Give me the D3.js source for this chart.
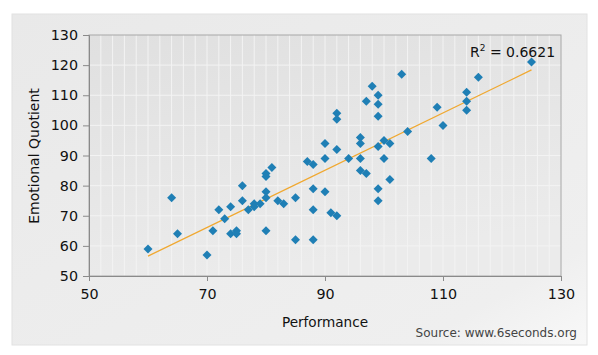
<!DOCTYPE html>
<html>
<head>
<meta charset="utf-8">
<script src="https://cdn.jsdelivr.net/npm/d3@7"></script>
<style>
html,body{margin:0;padding:0;background:#fff;}
svg{display:block;font-family:"DejaVu Sans",Verdana,sans-serif;}
</style>
</head>
<body>
<svg id="chart" width="598" height="355"></svg>
<script>
// ---- data ----
const performance = [60,64,65,70,71,72,73,74,74,75,75,76,76,77,78,78,79,80,80,80,80,80,81,82,83,85,85,87,88,88,88,88,90,90,90,91,92,92,92,92,94,96,96,96,96,97,97,98,99,99,99,99,99,99,100,100,101,101,103,104,108,109,110,114,114,114,116,125];
const emotionalQuotient = [59,76,64,57,65,72,69,73,64,65,64,80,75,72,74,73,74,84,83,78,76,65,86,75,74,76,62,88,87,79,72,62,94,89,78,71,104,102,92,70,89,96,94,89,85,108,84,113,110,107,103,93,79,75,95,89,94,82,117,98,89,106,100,111,108,105,116,121];
const trendX = [60,125];
const trendY = [56.6,118.4];
const xTicks = [50,70,90,110,130];
const yTicks = [50,60,70,80,90,100,110,120,130];
const rSquaredLabel = "0.6621";
const xTitle = "Performance";
const yTitle = "Emotional Quotient";
const sourceText = "Source: www.6seconds.org";

(function(){
const svg = d3.select("#chart");
const defs = svg.append("defs");
const pg = defs.append("linearGradient").attr("id","panelGrad").attr("x1","0").attr("y1","0").attr("x2","1").attr("y2","1");
pg.append("stop").attr("offset","0").attr("stop-color","#e9e9e9");
pg.append("stop").attr("offset","0.85").attr("stop-color","#efefef");
pg.append("stop").attr("offset","1").attr("stop-color","#f8f8f8");
const ag = defs.append("linearGradient").attr("id","plotGrad").attr("x1","0").attr("y1","0").attr("x2","0.3").attr("y2","1");
ag.append("stop").attr("offset","0").attr("stop-color","#e0e0e0");
ag.append("stop").attr("offset","1").attr("stop-color","#ebebeb");

// outer panel
svg.append("rect").attr("x",12).attr("y",14).attr("width",575).attr("height",331)
  .attr("fill","url(#panelGrad)").attr("stroke","#e2e2e2").attr("stroke-width",1);

const pLeft = 89, pRight = 561, pTop = 35, pBottom = 276;
const x = d3.scaleLinear().domain([50,130]).range([pLeft,pRight]);
const y = d3.scaleLinear().domain([50,130]).range([pBottom,pTop]);

// plot background
svg.append("rect").attr("x",pLeft).attr("y",pTop).attr("width",pRight-pLeft).attr("height",pBottom-pTop)
  .attr("fill","url(#plotGrad)");

// grid
const g = svg.append("g");
g.selectAll("line.vg").data(d3.range(52,130,2)).join("line")
  .attr("x1",d=>x(d)).attr("x2",d=>x(d)).attr("y1",pTop).attr("y2",pBottom)
  .attr("stroke","#f3f3f3").attr("stroke-width",1);
g.selectAll("line.hg").data(yTicks.slice(1,-1)).join("line")
  .attr("x1",pLeft).attr("x2",pRight).attr("y1",d=>y(d)).attr("y2",d=>y(d))
  .attr("stroke","#f3f3f3").attr("stroke-width",1);

// frame
svg.append("rect").attr("x",pLeft).attr("y",pTop).attr("width",pRight-pLeft).attr("height",pBottom-pTop)
  .attr("fill","none").attr("stroke","#a8a8a8").attr("stroke-width",1);

// axes
const xAxis = d3.axisBottom(x).tickValues(xTicks).tickSize(5).tickPadding(8).tickFormat(d3.format("d"));
const yAxis = d3.axisLeft(y).tickValues(yTicks).tickSize(6).tickPadding(5).tickFormat(d3.format("d"));
const xa = svg.append("g").attr("transform",`translate(0,${pBottom})`).call(xAxis);
const ya = svg.append("g").attr("transform",`translate(${pLeft},0)`).call(yAxis);
[xa,ya].forEach(a=>{
  a.select(".domain").attr("stroke","#8a8a8a");
  a.selectAll(".tick line").attr("stroke","#8a8a8a");
  a.selectAll(".tick text").attr("fill","#111").attr("font-size",14.3).attr("font-family","DejaVu Sans, sans-serif");
});

// trend line
svg.append("line")
  .attr("x1",x(trendX[0])).attr("y1",y(trendY[0]))
  .attr("x2",x(trendX[1])).attr("y2",y(trendY[1]))
  .attr("stroke","#f0a830").attr("stroke-width",1.3);

// points (diamonds)
svg.append("g").selectAll("path").data(performance.map((p,i)=>[p,emotionalQuotient[i]])).join("path")
  .attr("d", "M0,-4.5L4.5,0L0,4.5L-4.5,0Z")
  .attr("transform",d=>`translate(${x(d[0])},${y(d[1])})`)
  .attr("fill","#1f7fb5");

// R^2 label
const rt = svg.append("text").attr("x",470).attr("y",57).attr("font-size",14).attr("fill","#111");
rt.append("tspan").text("R");
rt.append("tspan").attr("dy",-6).attr("font-size",9).text("2");
rt.append("tspan").attr("dy",6).text(" = " + rSquaredLabel);

// titles
svg.append("text").attr("x",325).attr("y",327).attr("text-anchor","middle").attr("font-size",13.6).attr("fill","#111").text(xTitle);
svg.append("text").attr("transform","translate(39,156) rotate(-90)").attr("text-anchor","middle").attr("font-size",14).attr("fill","#111").text(yTitle);
svg.append("text").attr("x",577).attr("y",337).attr("text-anchor","end").attr("font-size",12).attr("fill","#444").text(sourceText);
})();
</script>
</body>
</html>
